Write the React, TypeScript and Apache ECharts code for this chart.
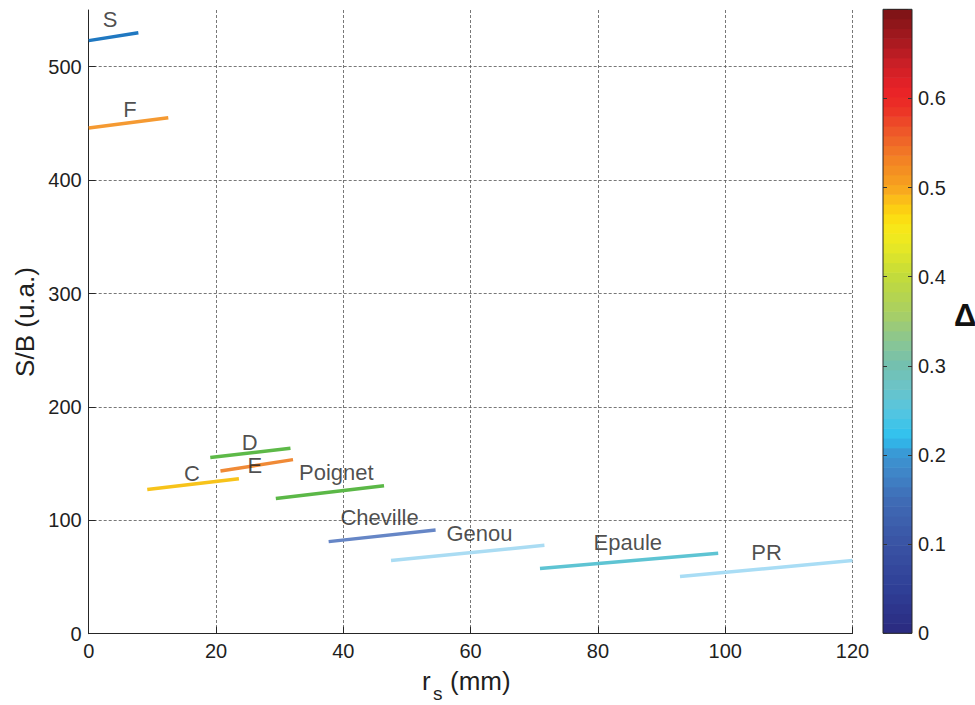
import React, { useEffect, useRef } from 'react';
import * as echarts from 'echarts';

// ---- data ----
const segmentNames = ['S', 'F', 'D', 'E', 'C', 'Poignet', 'Cheville', 'Genou', 'Epaule', 'PR'];
const rsStart = [0, 0, 19.1, 20.7, 9.2, 29.4, 37.7, 47.5, 70.9, 92.9];
const rsEnd = [7.8, 12.5, 31.7, 32.1, 23.6, 46.4, 54.5, 71.6, 98.9, 120];
const snrStart = [523, 446, 155.3, 143.5, 127.2, 119.2, 81.2, 64.5, 57.5, 50.5];
const snrEnd = [530, 455, 163.6, 153.5, 136.7, 130.4, 91.5, 78.0, 71.0, 64.5];
const segmentColors = ['#1f78c1', '#f59a32', '#5db948', '#f08a36', '#f7c31a', '#5bb847', '#6686c6', '#aadcf3', '#5ec4d3', '#a9ddf5'];
// label anchors (data units, like MATLAB text(x, y, ...))
const labelRs = [3.35, 6.5, 25.3, 26.1, 16.2, 38.9, 45.7, 61.4, 84.7, 106.5];
const labelSnr = [542, 462.6, 168.5, 148, 141.3, 141.8, 102.6, 88.3, 80.6, 71.6];

const xTicks = [0, 20, 40, 60, 80, 100, 120];
const yTicks = [0, 100, 200, 300, 400, 500];
const deltaTicks = [0, 0.1, 0.2, 0.3, 0.4, 0.5, 0.6];

// colour map of the colour bar (Δ, colour)
const cmapDelta = [0.0, 0.05, 0.1, 0.15, 0.18, 0.2, 0.22, 0.25, 0.28, 0.3, 0.33, 0.36, 0.4, 0.43, 0.45, 0.47, 0.49, 0.5, 0.53, 0.56, 0.59, 0.61, 0.64, 0.67, 0.7];
const cmapColor = ['#2b2a80', '#2f3f96', '#3a53a4', '#3f6cb6', '#3f86c8', '#3b95d3', '#2ec1ef', '#56c6e0', '#6ec3c4', '#73c0b0', '#8cc690', '#a9cf62', '#c2db3b', '#e3e627', '#f5eb1b', '#fdd910', '#fbb81b', '#f7a41f', '#f38424', '#ee5c29', '#ec2f26', '#e92227', '#c91f26', '#a0181e', '#7a1316'];
const cmapBands = 64;
const deltaMax = 0.7;

const FONT = 'Liberation Sans, Arial, Helvetica, sans-serif';
const INK = '#1f1f1f';

function hexToRgb(h: string) {
  const n = parseInt(h.slice(1), 16);
  return [(n >> 16) & 255, (n >> 8) & 255, n & 255];
}
function sampleCmap(d: number) {
  let i = 0;
  while (i < cmapDelta.length - 2 && d > cmapDelta[i + 1]) i++;
  const t = Math.max(0, Math.min(1, (d - cmapDelta[i]) / (cmapDelta[i + 1] - cmapDelta[i])));
  const a = hexToRgb(cmapColor[i]);
  const b = hexToRgb(cmapColor[i + 1]);
  const c = a.map((v, k) => Math.round(v + (b[k] - v) * t));
  return `rgb(${c[0]},${c[1]},${c[2]})`;
}

export default function App() {
  const ref = useRef<HTMLDivElement>(null);
  useEffect(() => {
    const chart = echarts.init(ref.current!, null, { renderer: 'svg' });

    const bands: any[] = [];
    for (let i = 0; i < cmapBands; i++) {
      const lo = (i * deltaMax) / cmapBands;
      const hi = ((i + 1) * deltaMax) / cmapBands;
      bands.push([lo, hi, sampleCmap((lo + hi) / 2)]);
    }

    const gridLine = { show: true, lineStyle: { color: '#555', width: 0.8, type: [3, 2] as any } };

    const segSeries = segmentNames.map((n, i) => ({
      type: 'line',
      name: n,
      xAxisIndex: 0,
      yAxisIndex: 0,
      data: [[rsStart[i], snrStart[i]], [rsEnd[i], snrEnd[i]]],
      showSymbol: false,
      symbol: 'none',
      lineStyle: { color: segmentColors[i], width: 3.5, cap: 'butt' },
      itemStyle: { color: segmentColors[i] },
      silent: true,
      z: 3,
    }));

    const option: any = {
      animation: false,
      backgroundColor: '#fff',
      textStyle: { fontFamily: FONT },
      grid: [
        { left: 88.7, top: 10, width: 763.8, height: 623.7, containLabel: false },
        { left: 883, top: 9.3, width: 29, height: 624, show: true, borderColor: '#262626', borderWidth: 1, backgroundColor: 'transparent', z: 5 },
      ],
      xAxis: [
        {
          type: 'value', gridIndex: 0, min: 0, max: 120, interval: 20,
          axisLine: { show: true, onZero: false, lineStyle: { color: '#262626', width: 1 } },
          axisTick: { show: true, inside: true, length: 7, lineStyle: { color: '#262626' } },
          axisLabel: { show: true, fontSize: 20, color: INK, margin: 7, fontFamily: FONT, customValues: xTicks },
          splitLine: gridLine,
        },
        {
          type: 'value', gridIndex: 1, min: 0, max: 1, show: false,
        },
      ],
      yAxis: [
        {
          type: 'value', gridIndex: 0, min: 0, max: 550, interval: 100,
          axisLine: { show: true, onZero: false, lineStyle: { color: '#262626', width: 1 } },
          axisTick: { show: true, inside: true, length: 7, lineStyle: { color: '#262626' }, customValues: yTicks },
          axisLabel: { show: true, fontSize: 20, color: INK, margin: 7, fontFamily: FONT, customValues: yTicks },
          splitLine: { show: true, lineStyle: { color: ['#555', '#555', '#555', '#555', '#555', '#555', 'transparent'], width: 0.8, type: [3, 2] } },
        },
        {
          type: 'value', gridIndex: 1, min: 0, max: deltaMax, interval: 0.1, position: 'left',
          axisLine: { show: false },
          axisTick: { show: true, inside: true, length: 4, lineStyle: { color: '#333' } },
          axisLabel: { show: false },
          splitLine: { show: false },
          z: 6,
        },
        {
          type: 'value', gridIndex: 1, min: 0, max: deltaMax, interval: 0.1, position: 'right',
          axisLine: { show: false },
          axisTick: { show: true, inside: true, length: 4, lineStyle: { color: '#333' } },
          axisLabel: { show: true, fontSize: 20, color: INK, margin: 6, fontFamily: FONT, customValues: deltaTicks,
            formatter: (v: number) => String(Math.round(v * 10) / 10) },
          splitLine: { show: false },
          z: 6,
        },
      ],
      series: [
        ...segSeries,
        {
          type: 'scatter',
          xAxisIndex: 0,
          yAxisIndex: 0,
          symbolSize: 1,
          itemStyle: { color: 'transparent' },
          silent: true,
          z: 4,
          data: segmentNames.map((n, i) => ({ name: n, value: [labelRs[i], labelSnr[i]] })),
          label: { show: true, position: 'inside', formatter: '{b}', fontSize: 22, lineHeight: 18, color: INK, fontFamily: FONT },
        },
        {
          type: 'custom',
          xAxisIndex: 1,
          yAxisIndex: 1,
          silent: true,
          data: bands,
          renderItem: (params: any, api: any) => {
            const lo = api.value(0);
            const hi = api.value(1);
            const p0 = api.coord([0, hi]);
            const p1 = api.coord([1, lo]);
            return {
              type: 'rect',
              shape: { x: p0[0], y: p0[1] - 0.3, width: p1[0] - p0[0], height: p1[1] - p0[1] + 0.6 },
              style: { fill: bands[params.dataIndex][2] },
            };
          },
          encode: { x: [], y: [0, 1] },
        },
      ],
      graphic: [
        { type: 'text', x: 25, y: 322, rotation: Math.PI / 2, style: { text: 'S/B (u.a.)', font: `26px ${FONT}`, fill: INK, align: 'center', verticalAlign: 'middle' } },
        { type: 'text', x: 422, y: 681, style: { text: 'r', font: `26px ${FONT}`, fill: INK, align: 'left', verticalAlign: 'middle' } },
        { type: 'text', x: 433, y: 693, style: { text: 's', font: `19px ${FONT}`, fill: INK, align: 'left', verticalAlign: 'middle' } },
        { type: 'text', x: 450, y: 681, style: { text: '(mm)', font: `26px ${FONT}`, fill: INK, align: 'left', verticalAlign: 'middle' } },
        { type: 'text', x: 954, y: 315, style: { text: 'Δ', font: `bold 31px ${FONT}`, fill: '#111', align: 'left', verticalAlign: 'middle' } },
      ],
    };

    chart.setOption(option);
    return () => chart.dispose();
  }, []);
  return <div ref={ref} style={{ position: 'fixed', left: 0, top: 0, width: 975, height: 705, background: '#fff' }} />;
}
